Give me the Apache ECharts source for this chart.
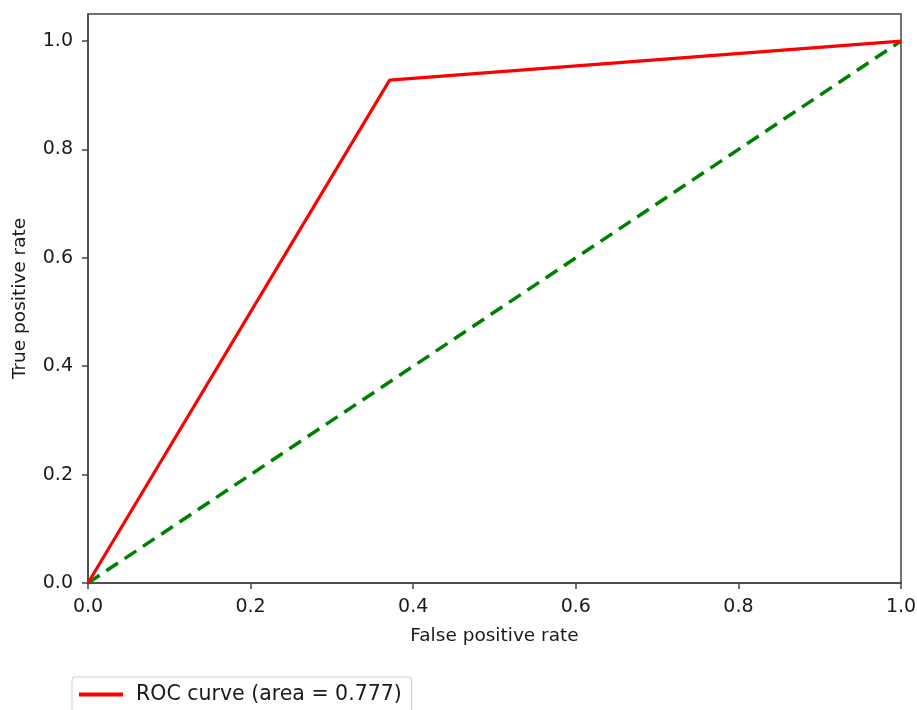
<!DOCTYPE html>
<html><head><meta charset="utf-8">
<script src="https://cdn.jsdelivr.net/npm/echarts@6/dist/echarts.min.js"></script>
<style>html,body{margin:0;padding:0;background:#fff}#c{width:917px;height:710px}</style>
</head><body><div id="c"></div>
<script>
const rocX = [0, 0.371, 1];
const rocY = [0, 0.928, 1];
const diagX = [0, 1];
const diagY = [0, 1];
const xTicks = [0, 0.2, 0.4, 0.6, 0.8, 1.0];
const yTicks = [0, 0.2, 0.4, 0.6, 0.8, 1.0];
const legendName = 'ROC curve (area = 0.777)';
const font = 'DejaVu Sans';

const chart = echarts.init(document.getElementById('c'));
chart.setOption({
  animation: false,
  backgroundColor: '#fff',
  grid: { left: 88, right: 16, top: 14, bottom: 127, containLabel: false, outerBoundsMode: 'none',
    show: true, borderColor: '#444', borderWidth: 1.5 },
  xAxis: {
    type: 'value', min: 0, max: 1, interval: 0.2,
    name: 'False positive rate', nameLocation: 'middle', nameGap: 44,
    nameTextStyle: { fontFamily: font, fontSize: 18.5, color: '#1a1a1a' },
    axisLine: { lineStyle: { color: '#444', width: 1.5 } },
    axisTick: { show: true, length: 6, lineStyle: { color: '#444', width: 1.5 } },
    splitLine: { show: false },
    axisLabel: { fontFamily: font, fontSize: 19, color: '#1a1a1a', margin: 15,
      formatter: v => xTicks.some(t => Math.abs(t - v) < 1e-9) ? v.toFixed(1) : '' }
  },
  yAxis: {
    type: 'value', min: 0, max: 1.05, interval: 0.2,
    name: 'True positive rate', nameLocation: 'middle', nameGap: 58, nameRotate: 90,
    nameTextStyle: { fontFamily: font, fontSize: 18.5, color: '#1a1a1a' },
    axisLine: { show: true, lineStyle: { color: '#444', width: 1.5 } },
    axisTick: { show: true, length: 6, lineStyle: { color: '#444', width: 1.5 } },
    splitLine: { show: false },
    axisLabel: { fontFamily: font, fontSize: 19, color: '#1a1a1a', margin: 15, showMaxLabel: false,
      formatter: v => yTicks.some(t => Math.abs(t - v) < 1e-9) ? v.toFixed(1) : '' }
  },
  legend: {
    left: 72, top: 677, data: [legendName],
    itemWidth: 44, itemHeight: 4, itemGap: 10,
    padding: [7, 10, 8, 7],
    borderColor: '#ccc', borderWidth: 1, borderRadius: 3,
    icon: 'rect',
    textStyle: { fontFamily: font, fontSize: 20.5, color: '#1a1a1a', padding: [0, 0, 0, 8] }
  },
  series: [
    {
      name: legendName, type: 'line', symbol: 'none',
      data: rocX.map((x, i) => [x, rocY[i]]),
      lineStyle: { color: '#ff0000', width: 3.2 }, itemStyle: { color: '#ff0000' }, z: 3
    },
    {
      name: 'diag', type: 'line', symbol: 'none',
      data: diagX.map((x, i) => [x, diagY[i]]),
      lineStyle: { color: '#008000', width: 3.5, type: [14, 8] }, itemStyle: { color: '#008000' }, z: 2
    }
  ]
});
</script></body></html>
